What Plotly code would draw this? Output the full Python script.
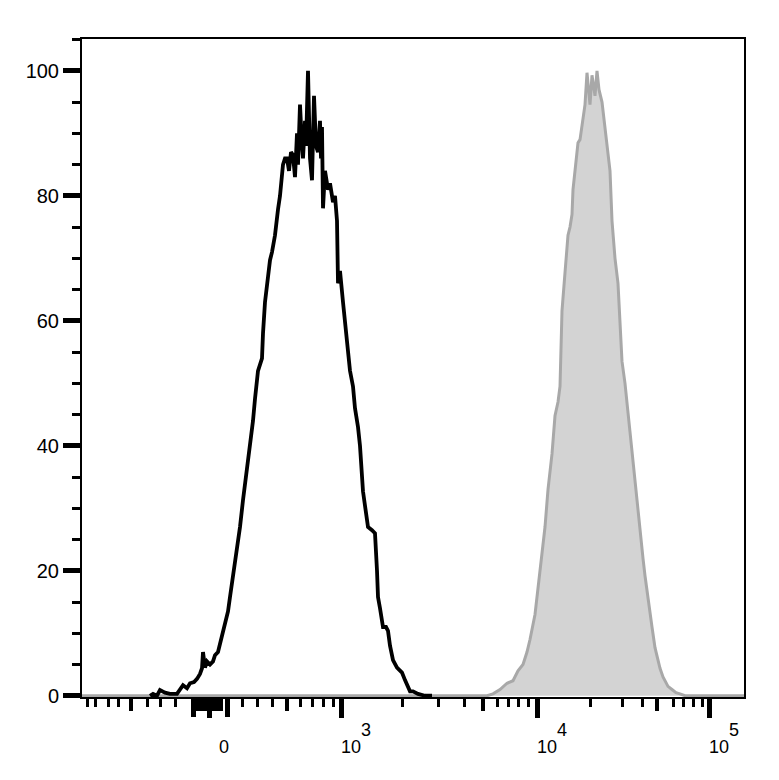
import plotly.graph_objects as go

# ---- data (x in display channels of the biexponential FL axis, y = % of max) ----
black_hist = [
    (68, 0), (71, 0.3), (75, 0), (78, 0.9), (83, 0.5), (88, 0.3), (95, 0.3), (101, 1.7),
    (105, 1.2), (108, 2), (112, 2.2), (115, 2.7), (118, 3.5), (120, 4.4), (121, 7), (123, 4.5),
    (125, 5.5), (128, 5), (131, 5.5), (133, 6.5), (136, 7), (139, 9), (143, 11.8), (146, 13.5),
    (148, 15.8), (151, 19), (155, 23.9), (158, 27), (161, 31.3), (165, 36), (168, 40), (171, 44),
    (173, 47.5), (176, 52), (178, 53), (180, 54), (181, 58), (183, 63), (186, 67), (188, 69.7),
    (190, 71), (193, 73.7), (196, 77.8), (198, 80), (201, 85), (203, 86), (205, 86), (207, 84),
    (209, 87), (211, 86.5), (213, 83), (215, 90), (216, 85), (218, 94.6), (220, 88), (221, 86),
    (223, 92), (224, 88), (226, 100), (227, 90), (228, 86), (230, 82.5), (231, 90), (232, 96),
    (234, 88), (236, 87), (238, 92), (239, 86), (240, 91), (241, 78), (243, 84), (246, 81),
    (248, 82), (251, 79), (253, 80), (255, 76), (256, 66), (258, 68), (261, 63), (264, 58),
    (266, 55), (268, 52), (271, 49.5), (273, 46), (276, 43), (278, 40), (281, 32.7), (283, 30),
    (286, 27), (290, 26.5), (293, 26), (295, 20), (296, 15.8), (298, 14), (301, 11), (304, 11),
    (306, 10.4), (308, 8), (311, 5.7), (315, 4.5), (320, 3.7), (323, 2.5), (326, 1.5), (328, 0.7),
    (331, 0.7), (336, 0.3), (343, 0), (350, 0),
]

gray_hist = [
    (0, 0), (405, 0), (411, 0.3), (418, 1), (425, 2), (431, 2.4), (436, 4), (441, 5), (445, 7),
    (448, 9), (453, 13), (456, 17), (458, 20), (461, 24), (463, 27), (466, 33), (468, 36),
    (470, 38.7), (473, 44.8), (476, 47), (478, 49.5), (479, 55), (480, 61.6), (483, 67.7),
    (486, 73.7), (488, 75), (490, 77), (491, 81), (493, 84), (496, 88.5), (498, 89), (500, 91),
    (503, 94.6), (505, 99.7), (507, 96), (508, 94.6), (510, 99.3), (512, 97), (513, 96),
    (515, 100), (517, 97), (520, 95), (523, 91), (524, 89), (526, 86), (528, 84), (530, 76),
    (533, 70), (536, 66), (538, 60), (540, 53.5), (543, 50), (545, 46.8), (548, 43), (550, 39.4),
    (553, 35), (555, 32), (558, 26.6), (561, 22), (563, 19.2), (566, 16), (568, 13.8), (570, 11),
    (573, 7.7), (576, 5.5), (578, 4.4), (581, 3), (583, 2.4), (586, 1.5), (590, 1), (594, 0.5),
    (598, 0.3), (603, 0), (662, 0),
]

# x-axis ticks (display channels)
tick_labels = ["0", "10", "10", "10"]
tick_exponents = ["", "3", "4", "5"]
tick_major = [127, 259, 455, 627]
tick_long_extra = [111, 145]
tick_medium = [49, 205, 401, 575, 115, 119, 123, 131, 135, 139]
tick_short = [5, 13, 26, 36, 65, 78, 93, 160, 175, 190, 218, 230, 241, 251,
              320, 356, 382, 415, 426, 436, 446, 508, 540, 560, 591, 601, 611, 620]
y_major = [0, 20, 40, 60, 80, 100]

X_RANGE = [0, 662]
Y_RANGE = [-0.2, 105.1]
FONT = "Arial, Liberation Sans, sans-serif"

bx = [p[0] for p in black_hist]
by = [p[1] for p in black_hist]
gx = [p[0] for p in gray_hist]
gy = [p[1] for p in gray_hist]

fig = go.Figure()
fig.add_trace(go.Scatter(x=gx, y=gy, mode="lines", fill="tozeroy",
                         fillcolor="#d3d3d3", line=dict(color="#a8a8a8", width=3),
                         hoverinfo="skip", showlegend=False))
fig.add_trace(go.Scatter(x=bx, y=by, mode="lines",
                         line=dict(color="#000000", width=3.8),
                         hoverinfo="skip", showlegend=False))
# empty traces so overlay tick axes are instantiated
for ax in ["x2", "x3", "x4"]:
    fig.add_trace(go.Scatter(x=[], y=[], xaxis=ax, yaxis="y", showlegend=False))
fig.add_trace(go.Scatter(x=[], y=[], xaxis="x", yaxis="y2", showlegend=False))

ticktext = [
    lab if not ex else lab + "<span style='font-size:18px;baseline-shift:17px'>" + ex + "</span>"
    for lab, ex in zip(tick_labels, tick_exponents)
]

overlay_common = dict(overlaying="x", anchor="y", side="bottom", range=X_RANGE,
                      showgrid=False, zeroline=False, showline=False, automargin=False,
                      showticklabels=False, ticks="outside", tickcolor="black",
                      tickmode="array")

# page body has an 8px default margin: size the figure so the plot area lands at 82..744 / 39..697
fig.update_layout(
    width=771, height=772,
    margin=dict(l=74, r=35, t=31, b=83, autoexpand=False),
    paper_bgcolor="white", plot_bgcolor="white",
    font=dict(family=FONT, color="black"),
    xaxis=dict(range=X_RANGE, showgrid=False, zeroline=False, automargin=False,
               showline=True, linecolor="black", linewidth=2, mirror=True,
               tickmode="array", tickvals=tick_major, ticktext=ticktext,
               ticks="outside", ticklen=19, tickwidth=5, tickcolor="black",
               tickfont=dict(size=18, family=FONT, color="black"),
               ticklabelshift=15, ticklabelstandoff=13),
    xaxis2=dict(**overlay_common, tickvals=tick_long_extra, ticklen=19, tickwidth=5),
    xaxis3=dict(**overlay_common, tickvals=tick_medium, ticklen=13, tickwidth=4),
    xaxis4=dict(**overlay_common, tickvals=tick_short, ticklen=9, tickwidth=3),
    yaxis=dict(range=Y_RANGE, showgrid=False, zeroline=False, automargin=False,
               showline=True, linecolor="black", linewidth=2, mirror=True,
               tickmode="array", tickvals=y_major,
               ticks="outside", ticklen=12, tickwidth=4.5, tickcolor="black",
               tickfont=dict(size=20, family=FONT, color="black"),
               ticklabelstandoff=5,
               minor=dict(dtick=5, tick0=0, ticks="outside", ticklen=8,
                          tickwidth=3, tickcolor="black", showgrid=False)),
    yaxis2=dict(overlaying="y", anchor="x", side="left", range=Y_RANGE,
                showgrid=False, zeroline=False, showline=False, automargin=False,
                showticklabels=False, tickmode="array", tickvals=y_major,
                ticks="outside", ticklen=18, tickwidth=4.5, tickcolor="black"),
)

fig.write_html("out.html")
